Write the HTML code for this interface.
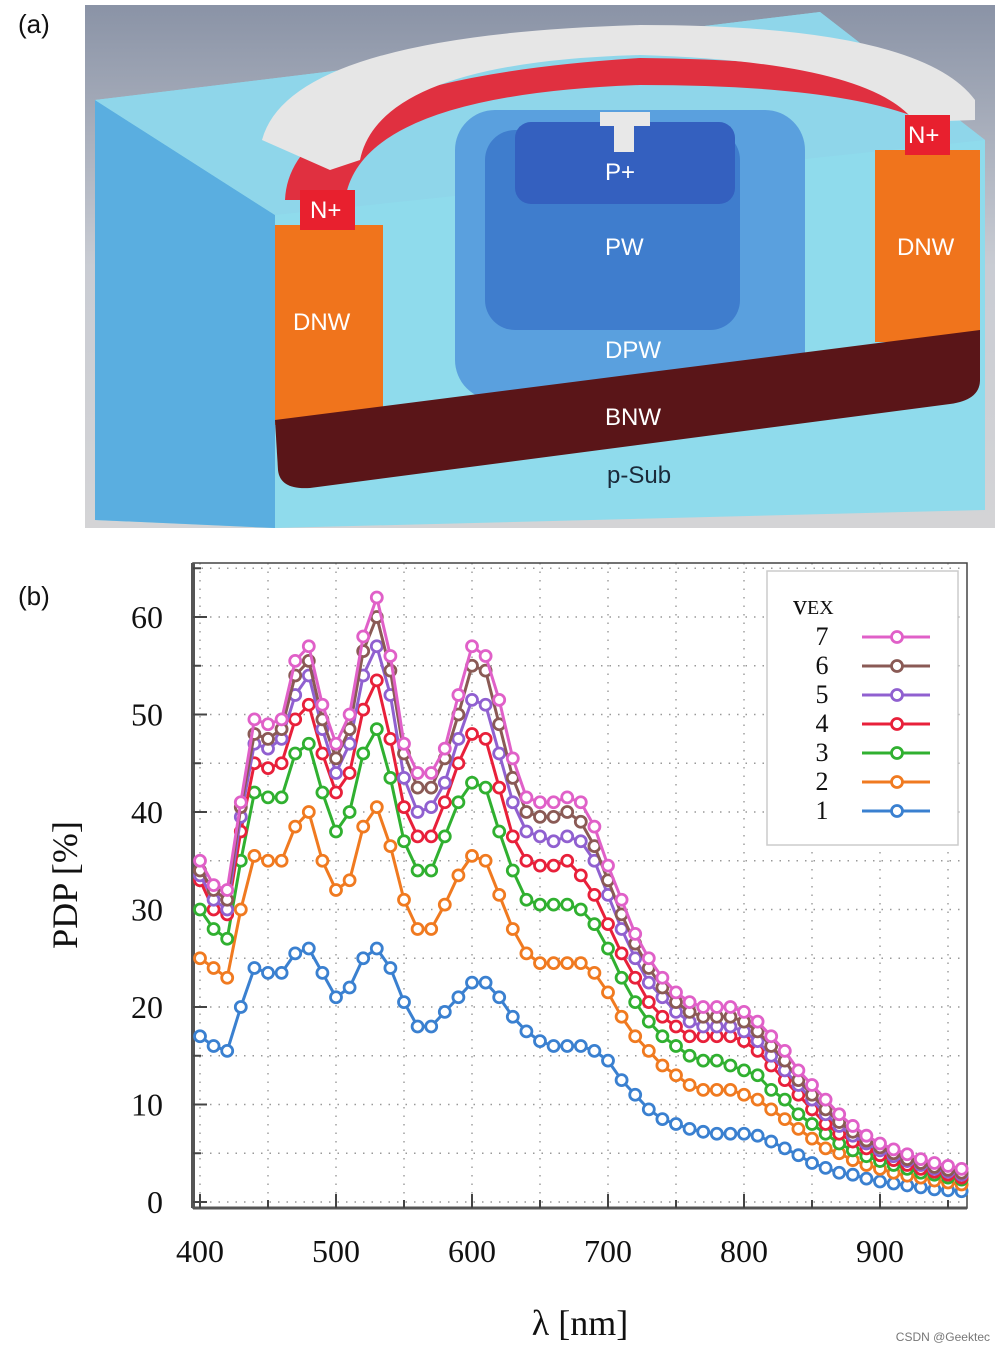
<!DOCTYPE html>
<html><head><meta charset="utf-8"><style>
html,body{margin:0;padding:0;background:#fff;width:1004px;height:1351px;overflow:hidden}
svg{display:block;font-family:"Liberation Sans",sans-serif}
.serif{font-family:"Liberation Serif",serif}
</style></head><body>
<svg id="root" width="1004" height="1351" viewBox="0 0 1004 1351">
<defs>
<linearGradient id="bg" x1="0" y1="0" x2="0" y2="1"><stop offset="0" stop-color="#8a93a6"/><stop offset="0.5" stop-color="#c9ccd3"/><stop offset="1" stop-color="#d4d4d6"/></linearGradient>
</defs>
<g>
<text x="18" y="33" font-size="26" fill="#111">(a)</text>
<rect x="85" y="5" width="910" height="523" fill="url(#bg)"/>
<polygon points="95,100 820,12 985,140 985,510 275,528 95,520" fill="#8fdbec"/>
<polygon points="95,100 275,215 275,528 95,520" fill="#5aaee0"/>
<polygon points="95,100 820,12 985,140 275,215" fill="#8fd6ea"/>
<rect x="455" y="110" width="350" height="290" rx="40" fill="#5aa0de"/>
<rect x="485" y="130" width="255" height="200" rx="30" fill="#3f7dcd"/>
<rect x="515" y="122" width="220" height="82" rx="16" fill="#3460bf"/>
<rect x="600" y="112" width="50" height="14" fill="#e8e8e8"/><rect x="614" y="120" width="20" height="32" fill="#e8e8e8"/>
<rect x="275" y="225" width="108" height="200" fill="#f0741c"/>
<rect x="875" y="150" width="105" height="192" fill="#f0741c"/>
<path d="M275,420 L980,330 L980,380 Q980,400 950,404 L310,488 Q280,490 278,470 Z" fill="#5a1518"/>
<path d="M285,200 Q290,80 640,58 Q880,60 950,110 L950,135 Q880,85 640,85 Q360,95 345,200 Z" fill="#e03040"/>
<path d="M262,140 Q290,35 640,25 Q920,25 975,100 L975,120 L915,122 Q870,62 640,55 Q380,62 360,160 L330,170 Z" fill="#e6e6e6"/>
<rect x="300" y="190" width="55" height="40" fill="#e8202e"/><rect x="905" y="115" width="45" height="40" fill="#e8202e"/>
<g fill="#fff" font-size="24">
<text x="310" y="218">N+</text><text x="908" y="143">N+</text><text x="605" y="180">P+</text>
<text x="605" y="255">PW</text><text x="293" y="330">DNW</text><text x="897" y="255">DNW</text>
<text x="605" y="358">DPW</text><text x="605" y="425">BNW</text></g>
<text x="607" y="483" font-size="24" fill="#1a2a3a">p-Sub</text>
</g>

<text x="18" y="605" font-size="26" fill="#111">(b)</text>
<g id="chart"></g>
</svg>
<script>
const wavelengths=[];for(let w=400;w<=960;w+=10)wavelengths.push(w);
const vexLabels=["7","6","5","4","3","2","1"];
const colors=["#e060c8","#8a5a55","#9060d0","#e8203a","#30b030","#f07a20","#3a80d0"];
const s7=[35,32.5,32,41,49.5,49,49.5,55.5,57,51,47,50,58,62,56,47,44,44,46.5,52,57,56,51.5,45.5,41.5,41,41,41.5,41,38.5,34.5,31,27.5,25,23,21.5,20.5,20,20,20,19.5,18.5,17,15.5,13.5,12,10.5,9,7.8,6.8,6,5.4,4.9,4.4,4,3.7,3.4];
const s6=[34,32,31,40.5,48,47.5,48.5,54,55.5,49.5,45.5,48.5,56.5,60,54.5,46,42.5,42.5,45.5,50,55,54.5,49,43.5,40,39.5,39.5,40,39,36.5,33,29.5,26.5,24,22,20.5,19.5,19,19,19,18.5,17.5,16,14.5,12.5,11,9.5,8.2,7.2,6.3,5.6,5,4.4,4,3.6,3.3,3];
const s5=[33.5,31,30,39.5,47,46.5,47.5,52,54,48.5,44,47,54,57,52,43.5,40,40.5,43,47.5,51.5,51,46,41,38,37.5,37,37.5,37,35,31.5,28,25,22.5,21,19.5,18.5,18,18,18,17.5,16.5,15,13.5,12,10.5,9,7.8,6.8,6,5.3,4.7,4.2,3.8,3.4,3.1,2.8];
const s4=[33,30,29.5,38,45,44.5,45,49.5,51,46,42,44,50.5,53.5,47.5,40.5,37.5,37.5,41,45,48,47.5,42.5,37.5,35,34.5,34.5,35,33.5,31.5,28.5,25.5,23,20.5,19,18,17,17,17,17,16.5,15.5,14,12.5,11,9.5,8,7,6.2,5.5,4.8,4.3,3.8,3.4,3.1,2.8,2.5];
const s3=[30,28,27,35,42,41.5,41.5,46,47,42,38,40,46,48.5,43.5,37,34,34,37.5,41,43,42.5,38,34,31,30.5,30.5,30.5,30,28.5,26,23,20.5,18.5,17,16,15,14.5,14.5,14,13.5,13,11.5,10.5,9,8,7,6,5.3,4.7,4.2,3.8,3.4,3,2.8,2.5,2.3];
const s2=[25,24,23,30,35.5,35,35,38.5,40,35,32,33,38.5,40.5,36.5,31,28,28,30.5,33.5,35.5,35,31.5,28,25.5,24.5,24.5,24.5,24.5,23.5,21.5,19,17,15.5,14,13,12,11.5,11.5,11.5,11,10.5,9.5,8.5,7.5,6.5,5.5,5,4.3,3.8,3.4,3,2.7,2.5,2.2,2,1.8];
const s1=[17,16,15.5,20,24,23.5,23.5,25.5,26,23.5,21,22,25,26,24,20.5,18,18,19.5,21,22.5,22.5,21,19,17.5,16.5,16,16,16,15.5,14.5,12.5,11,9.5,8.5,8,7.5,7.2,7,7,7,6.8,6.2,5.5,4.8,4,3.5,3,2.8,2.4,2.1,1.9,1.7,1.5,1.3,1.2,1.1];
const series=[s7,s6,s5,s4,s3,s2,s1];
const xTicks=[400,500,600,700,800,900];
const yTicks=[0,10,20,30,40,50,60];

const NS="http://www.w3.org/2000/svg";
const g=document.getElementById('chart');
const L=193,R=967,T=563,B=1208;
const X=v=>200+(v-400)*1.36;
const Y=v=>1202-v*9.75;
function el(tag,attrs,parent){const e=document.createElementNS(NS,tag);for(const k in attrs)e.setAttribute(k,attrs[k]);(parent||g).appendChild(e);return e;}
for(let v=400;v<=950;v+=50){const l=el('line',{x1:X(v),x2:X(v),y1:T,y2:B,stroke:'#999','stroke-width':1.4,'stroke-dasharray':'1.5 7'});

}
for(let v=0;v<=65;v+=5){const l=el('line',{x1:L,x2:R,y1:Y(v),y2:Y(v),stroke:'#999','stroke-width':1.4,'stroke-dasharray':'1.5 7'});

}
const frame=el('rect',{x:L,y:T,width:R-L,height:B-T,fill:'none',stroke:'#444','stroke-width':1.5});


el('line',{x1:L,x2:L,y1:T,y2:B,stroke:'#555','stroke-width':4});
el('line',{x1:L,x2:R,y1:B,y2:B,stroke:'#555','stroke-width':3});
for(let v=400;v<=950;v+=50){const big=v%100===0;el('line',{x1:X(v),x2:X(v),y1:B,y2:B-(big?14:8),stroke:'#444','stroke-width':2});}
for(let v=0;v<=65;v+=5){const big=v%10===0;el('line',{x1:L,x2:L+(big?14:8),y1:Y(v),y2:Y(v),stroke:'#444','stroke-width':2});}
xTicks.forEach(v=>{const t=el('text',{x:X(v),y:1262,'text-anchor':'middle','font-size':32,fill:'#111',class:'serif'});t.textContent=v;

});
yTicks.forEach(v=>{const t=el('text',{x:163,y:Y(v)+11,'text-anchor':'end','font-size':32,fill:'#111',class:'serif'});t.textContent=v;

});
const xt=el('text',{x:580,y:1335,'text-anchor':'middle','font-size':36,fill:'#111',class:'serif'});xt.textContent='λ [nm]';


const yt=el('text',{x:0,y:0,transform:'translate(77,885) rotate(-90)','text-anchor':'middle','font-size':36,fill:'#111',class:'serif'});yt.textContent='PDP [%]';


for(let i=series.length-1;i>=0;i--){
 const sg=el('g',{});
 
 
 const d=series[i].map((v,j)=>(j?'L':'M')+X(wavelengths[j]).toFixed(1)+','+Y(v).toFixed(1)).join('');
 el('path',{d:d,fill:'none',stroke:colors[i],'stroke-width':3},sg);
 series[i].forEach((v,j)=>{const c=el('circle',{cx:X(wavelengths[j]),cy:Y(v),r:5.5,fill:'#fff',stroke:colors[i],'stroke-width':2.8},sg);
 
 });
}
const lg=el('g',{});


el('rect',{x:767,y:571,width:191,height:274,fill:'#fff',stroke:'#ccc','stroke-width':1.5},lg);
const lt=el('text',{x:793,y:614,'font-size':28,fill:'#111',class:'serif'},lg);lt.innerHTML='v<tspan font-size="20">EX</tspan>';


vexLabels.forEach((lab,i)=>{const y=637+i*29;const e=el('g',{},lg);
 
 
 const t=el('text',{x:822,y:y+8,'text-anchor':'middle','font-size':26,fill:'#111',class:'serif'},e);t.textContent=lab;
 el('line',{x1:862,x2:930,y1:y,y2:y,stroke:colors[i],'stroke-width':3},e);
 el('circle',{cx:897,cy:y,r:5.5,fill:'#fff',stroke:colors[i],'stroke-width':2.8},e);});
const wm=el('text',{x:990,y:1341,'text-anchor':'end','font-size':12,fill:'#777'});wm.textContent='CSDN @Geektec';


</script>
</body></html>
